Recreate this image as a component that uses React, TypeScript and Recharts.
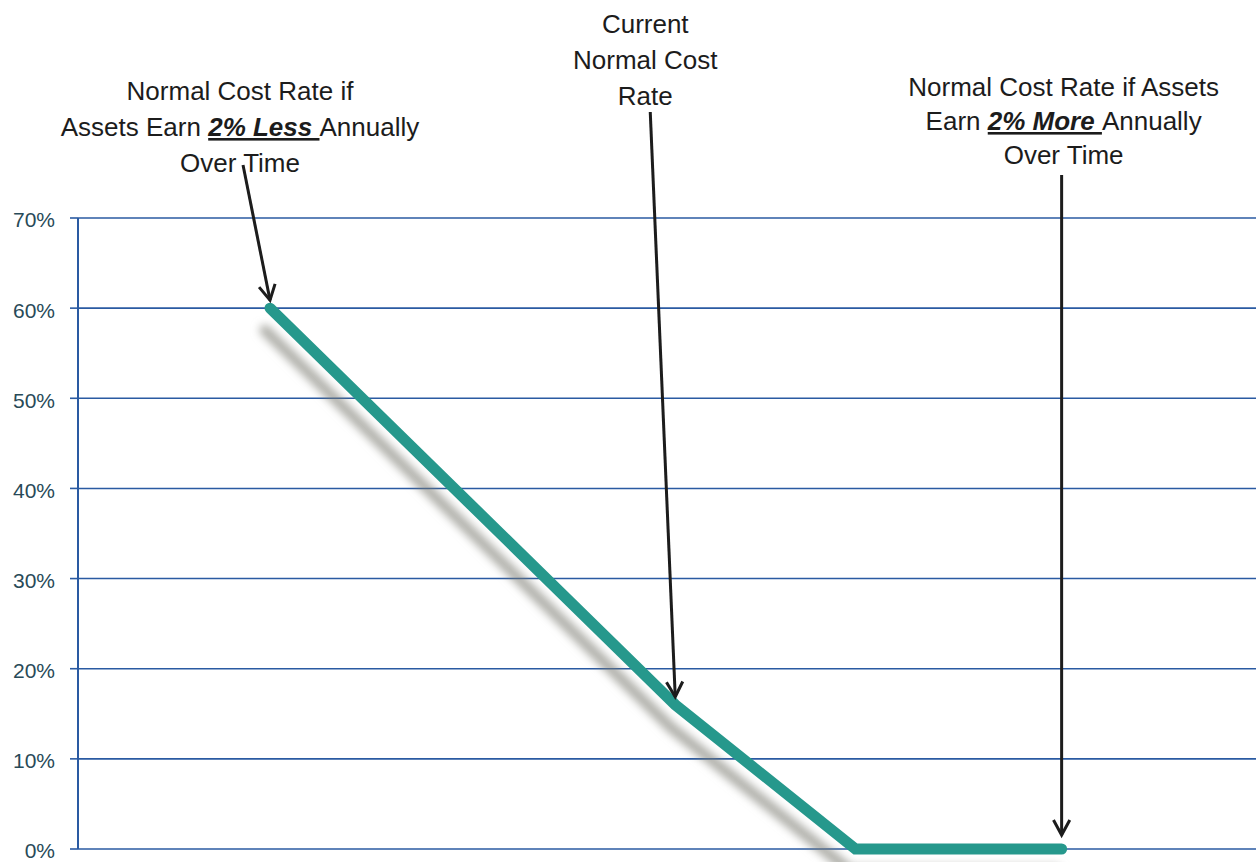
import { LineChart, Line, XAxis, YAxis, CartesianGrid, ReferenceDot } from 'recharts';

// position along the return spectrum (arbitrary units) and normal cost rate (%)
const scenarioX = [16.3, 50.7, 66.0, 83.5];
const costRate = [60, 16, 0, 0];
const yTicks = [0, 10, 20, 30, 40, 50, 60, 70];

type Piece = { t: string; em?: boolean };

const lessLines: Piece[][] = [
  [{ t: 'Normal Cost Rate if' }],
  [{ t: 'Assets Earn ' }, { t: '2% Less ', em: true }, { t: 'Annually' }],
  [{ t: 'Over Time' }],
];
const currentLines: Piece[][] = [[{ t: 'Current' }], [{ t: 'Normal Cost' }], [{ t: 'Rate' }]];
const moreLines: Piece[][] = [
  [{ t: 'Normal Cost Rate if Assets' }],
  [{ t: 'Earn ' }, { t: '2% More ', em: true }, { t: 'Annually' }],
  [{ t: 'Over Time' }],
];

// which point each note points at, plus where its text/arrow tail sit
const notes = [
  { idx: 0, lines: lessLines, textDx: -30, baseline: 100, gap: 36, tailDx: -27, tailY: 165, tipGap: 8 },
  { idx: 1, lines: currentLines, textDx: -30, baseline: 33, gap: 36, tailDx: -25, tailY: 112, tipGap: 8 },
  { idx: 3, lines: moreLines, textDx: 2, baseline: 96, gap: 34, tailDx: 0, tailY: 175, tipGap: 14 },
];

const data = scenarioX.map((x, i) => ({ x, rate: costRate[i] }));

const Note = (props: any) => {
  const { cx, cy, note } = props;
  if (cx == null || cy == null) return null;
  const tx = cx + note.tailDx;
  const ty = note.tailY;
  const hx = cx;
  const hy = cy - note.tipGap;
  const ang = Math.atan2(hy - ty, hx - tx);
  const len = 17;
  const spread = 0.5;
  const a1x = hx - len * Math.cos(ang - spread);
  const a1y = hy - len * Math.sin(ang - spread);
  const a2x = hx - len * Math.cos(ang + spread);
  const a2y = hy - len * Math.sin(ang + spread);
  return (
    <g>
      {note.lines.map((line: Piece[], li: number) => (
        <text
          key={li}
          x={cx + note.textDx}
          y={note.baseline + li * note.gap}
          textAnchor="middle"
          fontFamily="'Liberation Sans', Arial, sans-serif"
          fontSize={26}
          fill="#1c1c1c"
        >
          {line.map((p, pi) => (
            <tspan
              key={pi}
              fontWeight={p.em ? 'bold' : 'normal'}
              fontStyle={p.em ? 'italic' : 'normal'}
              style={p.em ? { textDecoration: 'underline' } : undefined}
            >
              {p.t}
            </tspan>
          ))}
        </text>
      ))}
      <line x1={tx} y1={ty} x2={hx} y2={hy} stroke="#1c1c1c" strokeWidth={3} />
      <polyline
        points={`${a1x},${a1y} ${hx},${hy} ${a2x},${a2y}`}
        fill="none"
        stroke="#1c1c1c"
        strokeWidth={3}
      />
    </g>
  );
};

const App = () => {
  return (
    <div style={{ position: 'absolute', left: 0, top: 0, background: '#fff' }}>
      <LineChart width={1256} height={862} data={data} margin={{ top: 218, right: 0, bottom: 13, left: 0 }}>
        <CartesianGrid horizontal vertical={false} stroke="#2a5aa2" strokeWidth={1.6} strokeOpacity={1} />
        <XAxis dataKey="x" type="number" domain={[0, 100]} hide />
        <YAxis
          domain={[0, 70]}
          ticks={yTicks}
          width={78}
          tickSize={8}
          tickMargin={15}
          axisLine={{ stroke: '#2a5aa2', strokeWidth: 2 }}
          tickLine={{ stroke: '#2a5aa2', strokeWidth: 1.6 }}
          tickFormatter={(v: number) => `${v}%`}
          tick={{ fontSize: 21, fill: '#284a58', fontFamily: "'Liberation Sans', Arial, sans-serif", dy: 2 }}
        />
        <Line
          type="linear"
          dataKey="rate"
          stroke="#26988c"
          strokeWidth={11}
          strokeLinecap="round"
          dot={false}
          activeDot={false}
          isAnimationActive={false}
          style={{ filter: 'drop-shadow(-5px 22px 4px rgba(120,120,110,0.6))' }}
        />
        {notes.map((n, i) => (
          <ReferenceDot
            key={i}
            x={scenarioX[n.idx]}
            y={costRate[n.idx]}
            ifOverflow="visible"
            shape={(p: any) => <Note {...p} note={n} />}
          />
        ))}
      </LineChart>
    </div>
  );
};

export default App;
